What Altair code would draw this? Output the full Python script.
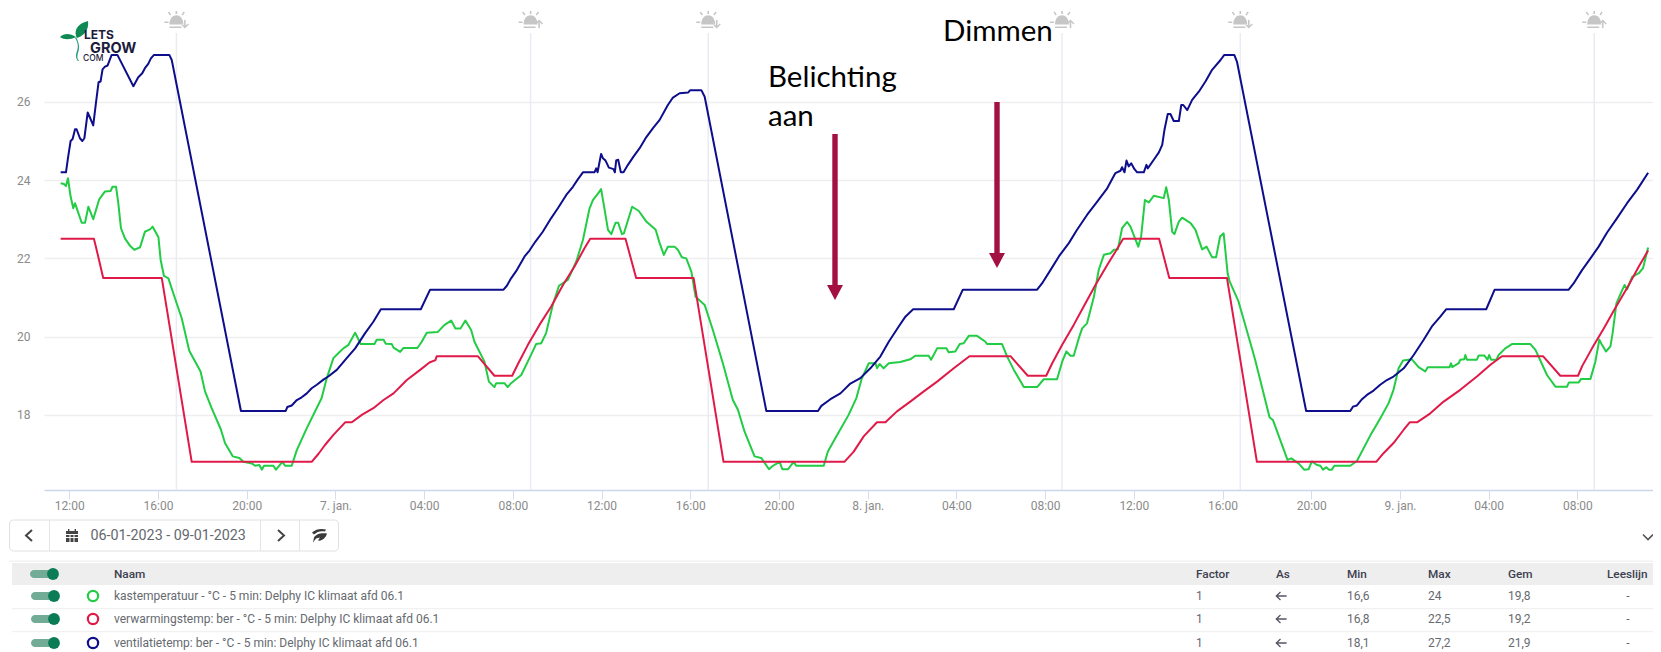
import altair as alt
import pandas as pd

# hours since 2023-01-06 00:00, and degrees C
GREEN_H = [11.61,11.76,11.85,11.94,12.06,12.18,12.26,12.36,12.56,12.71,12.86,13.08,13.35,13.61,13.86,13.95,14.11,14.21,14.33,14.51,14.74,14.93,15.19,15.41,15.64,15.76,16.02,16.12,16.27,16.47,16.69,17.07,17.41,17.92,18.12,18.42,18.84,19.02,19.37,19.67,19.85,20.23,20.38,20.57,20.68,20.78,21.2,21.32,21.61,21.73,22.03,22.26,22.71,23.38,23.61,23.91,24.14,24.36,24.59,24.89,25.14,25.76,25.86,26.17,26.27,26.54,26.62,26.92,27.07,27.7,27.89,28.12,28.62,28.92,29.22,29.41,29.64,29.86,30.12,30.27,30.72,30.92,31.17,31.25,31.62,31.77,31.92,32.38,32.75,33.05,33.28,33.5,33.8,34.08,34.48,34.86,35.16,35.46,35.61,35.83,35.98,36.14,36.29,36.44,36.63,36.75,36.92,37.01,37.38,37.68,38.02,38.44,38.62,38.81,38.99,39.29,39.44,39.62,39.82,40.05,40.24,40.65,41.02,41.47,41.92,42.15,42.45,42.9,43.2,43.55,43.73,44.03,44.15,44.41,44.66,44.78,46.02,46.2,46.54,47.14,47.49,47.74,48.05,48.35,48.42,48.54,48.72,48.95,49.47,49.92,50.15,50.75,50.86,51.13,51.55,51.65,51.95,52.15,52.33,52.56,52.93,53.31,53.38,54.06,54.29,54.59,55.04,55.64,55.94,56.54,56.77,56.96,57.14,57.29,57.52,57.67,57.89,58.2,58.42,58.65,58.95,59.1,59.28,59.47,59.7,59.85,60.08,60.2,60.33,60.5,60.68,60.9,61.35,61.46,61.58,61.73,61.83,62.03,62.18,62.56,62.78,63.08,63.28,63.53,63.71,63.89,64.05,64.23,64.32,64.72,65.28,65.47,66.12,66.27,66.93,67.1,67.43,67.68,67.88,68.03,68.26,68.41,68.53,68.68,68.8,68.93,69.04,69.76,70.06,70.66,71.11,71.49,71.71,71.94,72.14,72.54,72.84,73.14,73.25,74.24,74.3,74.36,74.65,74.72,74.9,74.95,75.02,75.47,75.55,75.8,75.95,76.02,76.11,76.35,76.45,76.75,77.05,77.88,78.11,78.63,79.01,79.53,79.62,80.06,80.17,80.59,80.81,80.99,81.11,81.29,81.49,81.59,81.76,82.02,82.13,82.24,82.47,82.77,82.96,83.19]
GREEN_V = [23.92,23.9,23.85,24.05,23.58,23.28,23.41,23.24,22.91,22.91,23.32,23.0,23.51,23.71,23.72,23.83,23.83,23.41,22.77,22.51,22.32,22.22,22.28,22.68,22.74,22.81,22.54,21.96,21.55,21.49,21.11,20.47,19.64,19.11,18.6,18.17,17.62,17.28,16.94,16.9,16.8,16.76,16.7,16.72,16.6,16.7,16.7,16.6,16.8,16.7,16.7,17.1,17.66,18.43,18.94,19.45,19.58,19.7,19.79,20.1,19.81,19.81,19.92,19.92,19.82,19.81,19.72,19.61,19.71,19.71,19.87,20.1,20.12,20.3,20.41,20.21,20.21,20.41,20.17,19.87,19.36,18.85,18.71,18.81,18.81,18.71,18.81,19.02,19.45,19.81,19.83,20.09,20.81,21.3,21.45,21.92,22.47,23.28,23.49,23.65,23.77,23.24,22.73,22.62,22.91,22.91,22.62,22.64,23.32,23.21,22.94,22.73,22.39,22.09,22.3,22.3,22.22,22.03,22.0,21.66,21.02,20.81,20.17,19.32,18.38,18.13,17.57,16.94,16.9,16.61,16.7,16.8,16.61,16.61,16.8,16.7,16.7,17.06,17.4,18.0,18.43,18.94,19.32,19.32,19.19,19.3,19.19,19.32,19.35,19.42,19.51,19.51,19.41,19.7,19.7,19.6,19.62,19.81,19.83,20.02,20.02,19.87,19.81,19.81,19.49,19.15,18.71,18.71,18.91,18.91,19.36,19.62,19.51,19.51,19.96,20.21,20.34,21.02,21.71,22.09,22.13,22.22,22.23,22.77,22.93,22.81,22.47,22.3,22.56,23.49,23.43,23.6,23.54,23.82,23.49,22.68,22.62,22.94,23.04,22.9,22.73,22.23,22.3,22.03,22.03,22.56,22.64,21.62,21.41,20.9,19.79,19.41,17.94,17.87,16.85,16.89,16.76,16.6,16.61,16.81,16.72,16.7,16.6,16.66,16.6,16.6,16.7,16.7,16.82,17.47,17.91,18.3,18.64,19.19,19.39,19.42,19.22,19.11,19.22,19.22,19.32,19.22,19.32,19.41,19.42,19.53,19.41,19.41,19.52,19.52,19.41,19.53,19.41,19.41,19.53,19.7,19.81,19.81,19.66,19.02,18.72,18.72,18.83,18.83,18.92,18.92,19.36,19.92,19.79,19.62,19.75,20.09,20.85,21.19,21.32,21.21,21.53,21.62,21.75,22.28]

RED_H = [11.61,13.11,13.2,13.53,16.17,17.52,22.93,23.23,23.53,23.91,24.44,24.74,25.19,25.71,26.17,26.62,27.22,27.82,28.24,28.51,28.57,30.42,31.17,31.97,32.23,32.68,33.2,33.73,34.26,34.78,35.23,35.49,37.08,37.56,40.15,41.5,46.95,47.37,47.82,48.42,48.8,49.32,49.92,50.53,51.13,51.88,52.59,54.44,55.22,56.05,56.32,56.77,57.29,57.74,58.27,58.8,59.17,59.52,61.14,61.6,64.2,65.55,70.93,71.26,71.71,72.17,72.44,72.77,73.37,73.97,74.72,75.47,76.08,76.6,78.45,79.23,80.03,80.21,80.66,81.19,81.71,82.24,82.77,83.19]
RED_V = [22.5,22.5,22.3,21.5,21.5,16.8,16.8,17.0,17.23,17.49,17.81,17.81,18.0,18.17,18.38,18.55,18.89,19.15,19.34,19.4,19.5,19.5,19.0,19.0,19.3,19.79,20.3,20.77,21.32,21.79,22.26,22.5,22.5,21.5,21.5,16.8,16.8,17.06,17.45,17.81,17.81,18.09,18.34,18.6,18.85,19.19,19.5,19.5,19.0,19.0,19.32,19.79,20.3,20.77,21.32,21.83,22.17,22.5,22.5,21.5,21.5,16.8,16.8,17.02,17.28,17.62,17.81,17.81,18.04,18.34,18.64,18.98,19.28,19.5,19.5,19.0,19.0,19.24,19.7,20.21,20.73,21.24,21.79,22.2]

BLUE_H = [11.61,11.85,11.95,12.06,12.15,12.26,12.33,12.48,12.59,12.68,12.83,12.93,13.08,13.2,13.32,13.41,13.5,13.61,13.73,13.91,14.17,14.89,15.11,15.29,15.41,15.56,15.68,15.82,16.51,16.62,19.74,21.76,21.83,22.03,22.26,22.48,22.71,22.93,23.16,23.46,23.68,24.06,24.51,24.89,25.34,25.71,26.05,27.85,28.27,31.58,31.73,31.92,32.18,32.53,32.75,33.02,33.35,33.73,34.03,34.41,34.71,34.93,35.16,35.68,35.76,35.82,35.98,36.06,36.18,36.33,36.54,36.6,36.66,36.75,36.87,36.99,37.19,37.44,37.71,38.02,38.32,38.62,38.99,39.22,39.52,39.91,40.0,40.5,40.65,43.43,45.76,45.91,46.32,46.77,47.22,47.67,48.12,48.57,48.95,49.4,49.7,50.05,51.88,52.29,55.64,55.86,56.24,56.62,57.07,57.44,57.89,58.35,58.8,59.17,59.4,59.47,59.58,59.67,59.77,59.88,60.03,60.15,60.45,60.57,60.63,60.9,61.13,61.28,61.38,61.53,61.65,61.8,62.03,62.14,62.23,62.41,62.63,62.93,63.23,63.53,63.91,64.08,64.53,64.65,67.77,69.76,69.88,70.06,70.29,70.51,70.81,71.11,71.41,71.71,72.17,72.62,73.07,73.44,73.82,74.09,75.89,76.27,79.61,79.83,80.21,80.59,80.96,81.34,81.79,82.24,82.69,83.19]
BLUE_V = [24.2,24.2,24.6,25.0,25.05,25.3,25.3,25.07,25.0,25.07,25.73,25.6,25.4,25.96,26.5,26.52,26.83,26.9,26.93,27.2,27.2,26.4,26.63,26.73,26.86,26.97,27.11,27.2,27.2,27.07,18.1,18.1,18.2,18.24,18.38,18.45,18.55,18.68,18.77,18.9,18.98,19.15,19.45,19.7,20.09,20.38,20.7,20.7,21.2,21.2,21.3,21.49,21.7,22.05,22.2,22.43,22.68,23.03,23.28,23.62,23.83,24.02,24.2,24.2,24.3,24.2,24.67,24.56,24.5,24.32,24.28,24.2,24.5,24.52,24.2,24.2,24.39,24.6,24.81,25.1,25.33,25.54,25.92,26.11,26.22,26.24,26.3,26.3,26.13,18.1,18.1,18.23,18.4,18.55,18.8,18.94,19.19,19.49,19.87,20.26,20.51,20.7,20.7,21.2,21.2,21.36,21.7,22.05,22.39,22.73,23.11,23.45,23.79,24.18,24.24,24.33,24.2,24.5,24.35,24.43,24.28,24.2,24.2,24.39,24.3,24.52,24.71,24.9,25.28,25.69,25.69,25.51,25.51,25.92,25.92,25.79,26.05,26.26,26.52,26.82,27.07,27.2,27.2,27.03,18.1,18.1,18.21,18.24,18.4,18.51,18.62,18.77,18.89,18.98,19.19,19.53,19.92,20.26,20.51,20.7,20.7,21.2,21.2,21.36,21.7,22.0,22.3,22.66,23.03,23.41,23.75,24.19]

SUNSET_H = [16.83, 40.81, 64.80]
SUNRISE_H = [32.80, 56.76, 80.76]
TICK_H = list(range(12, 84, 4))
Y_TICKS = [18, 20, 22, 24, 26]

SERIES = ["kastemperatuur", "verwarmingstemp", "ventilatietemp"]
COLORS = ["#22cc44", "#e01a48", "#0e0e8c"]
ROW_NAMES = ["kastemperatuur - °C - 5 min: Delphy IC klimaat afd 06.1",
             "verwarmingstemp: ber - °C - 5 min: Delphy IC klimaat afd 06.1",
             "ventilatietemp: ber - °C - 5 min: Delphy IC klimaat afd 06.1"]
HEADERS = ["Naam", "Factor", "As", "Min", "Max", "Gem", "Leeslijn"]
ROW_FACTOR = ["1", "1", "1"]
ROW_MIN = ["16,6", "16,8", "18,1"]
ROW_MAX = ["24", "22,5", "27,2"]
ROW_AVG = ["19,8", "19,2", "21,9"]
ROW_READ = ["-", "-", "-"]
DATE_RANGE = "06-01-2023 - 09-01-2023"

# layout (full-page pixel coordinates)
X0, Y0 = 44, 33
W, H = 1609, 457
ROW_Y = [596, 619, 643]
COL_X = [114, 1196, 1276, 1347, 1428, 1508, 1607]
HOUR_MIN, HOUR_MAX = 10.86, 83.41

BASE = pd.Timestamp("2023-01-06")
def stamp(hours):
    return BASE + pd.to_timedelta(hours, unit="h")
def iso(hours):
    return stamp(hours).strftime("%Y-%m-%dT%H:%M:%S")

frames = []
for name, hs, vs in zip(SERIES, [GREEN_H, RED_H, BLUE_H], [GREEN_V, RED_V, BLUE_V]):
    frames.append(pd.DataFrame({"t": [stamp(h) for h in hs], "v": vs, "s": name}))
lines = pd.concat(frames, ignore_index=True)
sun = pd.DataFrame({"t": [stamp(h) for h in sorted(SUNSET_H + SUNRISE_H)]})

x_scale = alt.Scale(domain=[iso(HOUR_MIN), iso(HOUR_MAX)], nice=False)
y_scale = alt.Scale(domain=[16.08, 27.76], nice=False, zero=False)
x_axis = alt.Axis(
    values=[iso(h) for h in TICK_H], title=None, grid=False,
    labelExpr="hours(datum.value)==0 ? timeFormat(datum.value,'%-d. jan.') : timeFormat(datum.value,'%H:%M')",
    labelFont="Roboto", labelFontSize=12, labelColor="#8a8a8a", labelPadding=1, labelFlush=False,
    tickColor="#d6dff0", tickSize=9, tickWidth=1, domainColor="#ccd6eb", domainWidth=1.5)
ONE = pd.DataFrame({"i": [0]})

def vx(X):
    return alt.value(X - X0)
def vy(Y):
    return alt.value(Y - Y0)

def txt(X, Y, s, size=12, color="#666a70", weight=400, align="left", font="Roboto", baseline="middle"):
    return alt.Chart(ONE).mark_text(text=s, fontSize=size, color=color, fontWeight=weight, align=align,
                                    font=font, baseline=baseline).encode(x=vx(X), y=vy(Y))

def box(x1, y1, x2, y2, fill="#ffffff", stroke=None, sw=1, radius=0):
    kw = {"fill": fill, "cornerRadius": radius}
    if stroke:
        kw.update(stroke=stroke, strokeWidth=sw)
    return alt.Chart(ONE).mark_rect(**kw).encode(x=vx(x1), x2=vx(x2), y=vy(y1), y2=vy(y2))

def glyph(path, X, Y, color="#444444"):
    return alt.Chart(ONE).mark_point(shape=path, size=4, filled=True, fill=color, opacity=1, strokeWidth=0).encode(x=vx(X), y=vy(Y))

def stroke_glyph(path, X, Y, color="#444444", sw=2):
    return alt.Chart(ONE).mark_point(shape=path, size=4, filled=False, stroke=color, strokeWidth=sw, opacity=1).encode(x=vx(X), y=vy(Y))

def knob(X, Y):
    return alt.Chart(ONE).mark_circle(size=140, color="#0b7c56", opacity=1).encode(x=vx(X), y=vy(Y))

def ring(X, Y, c):
    return alt.Chart(ONE).mark_point(shape="circle", size=105, filled=False, stroke=c, strokeWidth=2.2, opacity=1).encode(x=vx(X), y=vy(Y))

layers = []

# sun rise / set rules
layers.append(alt.Chart(sun).mark_rule(color="#e9ecf3", strokeWidth=1.5).encode(
    x=alt.X("t:T", scale=x_scale, axis=x_axis)))

# series
layers.append(alt.Chart(lines).mark_line(strokeWidth=2, strokeJoin="round", interpolate="linear").encode(
    x=alt.X("t:T", scale=x_scale, axis=x_axis),
    y=alt.Y("v:Q", scale=y_scale, axis=alt.Axis(
        values=Y_TICKS, title=None, grid=True, gridColor="#eeeeee", gridWidth=1.5,
        labelFont="Roboto", labelFontSize=12, labelColor="#8a8a8a", labelPadding=14,
        domain=False, ticks=False)),
    color=alt.Color("s:N", scale=alt.Scale(domain=SERIES, range=COLORS), legend=None),
    detail="s:N"))

# sun icons
SUN = ("M-7,4.5 C-7,-8 7,-8 7,4.5 Z M-7,6.5 H5 V8 H-7 Z M-12,1.5 H-8 V3 H-12 Z M-0.8,-9 H0.8 V-6 H-0.8 Z "
       "M-8.5,-7.5 L-7.3,-8.5 L-5.2,-5.5 L-6.4,-4.5 Z M8.5,-7.5 L7.3,-8.5 L5.2,-5.5 L6.4,-4.5 Z ")
UP = "M4.5,3.5 L8.5,-0.5 L12.5,3.5 L11.5,4.5 L9.3,2.3 V8 H7.7 V2.3 L5.5,4.5 Z"
DOWN = "M4.5,4.5 L8.5,8.5 L12.5,4.5 L11.5,3.5 L9.3,5.7 V0 H7.7 V5.7 L5.5,3.5 Z"
def hour_px(h):
    return X0 + (h - HOUR_MIN) / (HOUR_MAX - HOUR_MIN) * W
for h in SUNSET_H:
    layers.append(glyph(SUN + DOWN, hour_px(h), 20, "#c6c6c6"))
for h in SUNRISE_H:
    layers.append(glyph(SUN + UP, hour_px(h), 20, "#c6c6c6"))

# logo
layers.append(glyph("M16,16 C14,8 20,3 28,1 C29,8 26,15 17,18 Z M0,17 C4,13 10,13 16,17 C10,20 4,20 0,17 Z", 60, 20, "#0f8a55"))
layers.append(glyph("M16,17 C19,22 20,28 18,33 C17,36 17,39 19,41 L17.8,41 C15.5,38 15.5,35 17,31 C18.5,27 18,22 15,18 Z", 60, 20, "#2a9a80"))
layers.append(txt(84, 39, "LETS", size=12, color="#1c1c3c", weight=700, font="Inter", baseline="alphabetic"))
layers.append(txt(90, 52.5, "GROW", size=14.5, color="#1c1c3c", weight=700, font="Inter", baseline="alphabetic"))
layers.append(txt(83, 61, "COM", size=8.5, color="#1c1c3c", weight=500, font="Inter", baseline="alphabetic"))

# annotations
ANN = "#a31142"
layers.append(txt(768, 87, "Belichting", size=29.5, color="#000000", font="Lato", baseline="alphabetic"))
layers.append(txt(768, 126, "aan", size=29.5, color="#000000", font="Lato", baseline="alphabetic"))
layers.append(txt(943, 41, "Dimmen", size=29.5, color="#000000", font="Lato", baseline="alphabetic"))
HEAD = "M-8,-7.5 L8,-7.5 L0,7.5 Z"
layers.append(box(832.3, 134, 837.7, 286, fill=ANN))
layers.append(glyph(HEAD, 835, 292.5, ANN))
layers.append(box(994.3, 102, 999.7, 254, fill=ANN))
layers.append(glyph(HEAD, 997, 260.5, ANN))

# toolbar
layers.append(box(9.5, 520, 338.5, 551, stroke="#e0e0e0", radius=4))
for dx in [49, 260, 299]:
    layers.append(box(dx, 520, dx + 1, 551, fill="#e4e4e4"))
layers.append(stroke_glyph("M3,-5.5 L-3,0 L3,5.5", 29, 535.5))
layers.append(stroke_glyph("M-3,-5.5 L3,0 L-3,5.5", 281, 535.5))
CAL = ("M-6,-4.5 H-4 V-6.5 H-2.6 V-4.5 H2.6 V-6.5 H4 V-4.5 H6 V-1.5 H-6 Z "
       "M-6,-0.5 H-2.5 V1.5 H-6 Z M-1.5,-0.5 H1.5 V1.5 H-1.5 Z M2.5,-0.5 H6 V1.5 H2.5 Z "
       "M-6,2.5 H-2.5 V6.5 H-6 Z M-1.5,2.5 H1.5 V6.5 H-1.5 Z M2.5,2.5 H6 V6.5 H2.5 Z")
layers.append(glyph(CAL, 72, 535.5, "#444444"))
layers.append(txt(90.5, 535.5, DATE_RANGE, size=14.3, color="#64686e"))
LEAF = ("M-7,-3 C-3,-7 3,-7 7,-6 L6,-4 C2,-5 -2,-4 -5,-1 Z M-5,2 C-3,-2 3,-3 8,-2 C7,2 3,6 -1,5 L1,2 L-3,3 L-6,7 Z")
layers.append(glyph(LEAF, 319, 535.5, "#3a3a3a"))
layers.append(stroke_glyph("M-5,-2.5 L0,2.5 L5,-2.5", 1648, 537, color="#555555", sw=1.6))

# table
layers.append(box(9.5, 560.5, 1653, 562, fill="#f2f2f2"))
layers.append(box(12, 563, 1653, 585, fill="#eeeeee"))
for sy in [608, 631]:
    layers.append(box(12, sy, 1653, sy + 1.2, fill="#f1f1f1"))
layers.append(box(30, 570, 54, 578, fill="#72ab96", radius=4))
layers.append(knob(53, 574))
for hx, hname in zip(COL_X, HEADERS):
    layers.append(txt(hx, 574, hname, size=11.8, color="#3d4050", weight=500))
columns = [ROW_FACTOR, ROW_MIN, ROW_MAX, ROW_AVG]
ARROW = "M5.3,0 H-5 M-0.8,-4 L-5,0 L-0.8,4"
for i, ry in enumerate(ROW_Y):
    layers.append(box(31, ry - 4, 55, ry + 4, fill="#72ab96", radius=4))
    layers.append(knob(54, ry))
    layers.append(ring(93, ry, COLORS[i]))
    layers.append(txt(COL_X[0], ry, ROW_NAMES[i]))
    layers.append(stroke_glyph(ARROW, COL_X[2] + 5.3, ry, color="#555566", sw=1.3))
    for cx, col in zip(COL_X[1:2] + COL_X[3:6], columns):
        layers.append(txt(cx, ry, col[i], size=12))
    layers.append(txt(1628, ry, ROW_READ[i], align="center"))

chart = alt.layer(*layers).properties(
    width=W, height=H,
    padding={"left": X0 - 8, "top": Y0 - 8, "right": 0, "bottom": 162},
    autosize=alt.AutoSizeParams(type="none"),
    background="#ffffff",
).configure_view(stroke=None)

chart.save("out.html", embed_options={"renderer": "svg", "actions": False})
